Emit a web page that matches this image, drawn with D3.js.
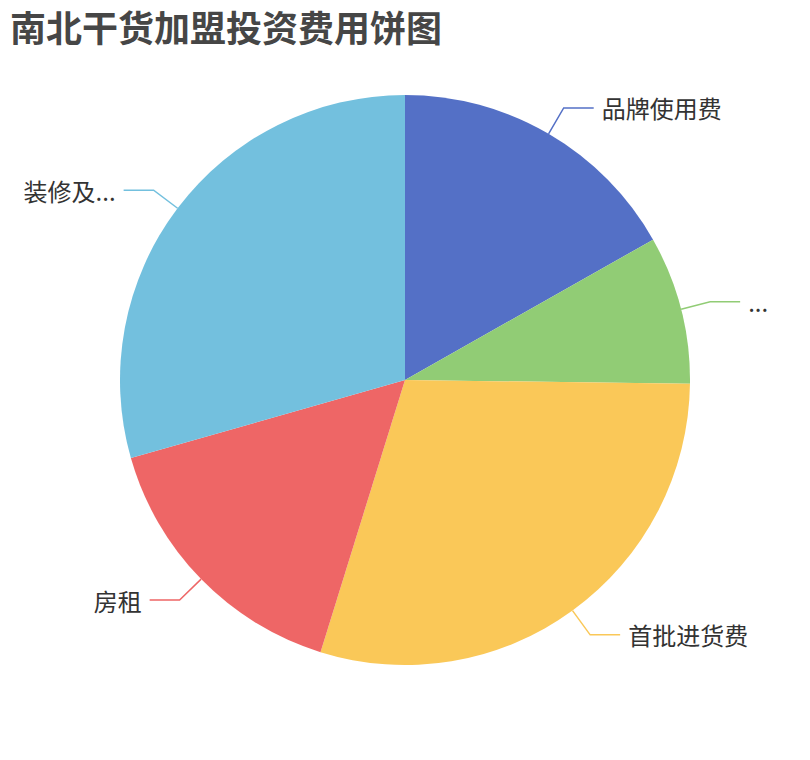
<!DOCTYPE html>
<html>
<head>
<meta charset="utf-8">
<script src="https://cdn.jsdelivr.net/npm/d3@7"></script>
<style>
  body { margin: 0; background: #fff; }
  text { font-family: "Noto Sans CJK SC", "Noto Sans", sans-serif; }
</style>
</head>
<body>
<div id="chart"></div>
<script>
// data (万元)
const names = ["品牌使用费", "保证金", "首批进货费", "房租", "装修及设备费"];
const values = [2, 1, 3.52, 1.88, 3.5];
const colors = ["#5470c6", "#91cc75", "#fac858", "#ee6666", "#73c0de"];

const width = 810, height = 760;
const cx = 405, cy = 380, radius = 285;
const len1 = 30, len2 = 30;
const fontSize = 24;

const svg = d3.select("#chart").append("svg")
    .attr("width", width)
    .attr("height", height);

svg.append("text")
    .attr("x", 10)
    .attr("y", 26)
    .attr("dominant-baseline", "central")
    .attr("font-size", 36)
    .attr("font-weight", "bold")
    .attr("fill", "#464646")
    .text("南北干货加盟投资费用饼图");

const data = names.map((n, i) => ({name: n, value: values[i], color: colors[i]}));

const pie = d3.pie().sort(null).value(d => d.value);
const arc = d3.arc().innerRadius(0).outerRadius(radius);

const g = svg.append("g").attr("transform", "translate(" + cx + "," + cy + ")");
const arcs = pie(data);

g.selectAll("path.slice")
  .data(arcs)
  .enter().append("path")
    .attr("class", "slice")
    .attr("d", arc)
    .attr("fill", d => d.data.color);

// label lines + labels, names cut down to the room left at the edges
const measure = svg.append("text").attr("font-size", fontSize).attr("visibility", "hidden");
function textW(s) { measure.text(s); return measure.node().getComputedTextLength(); }
function fit(s, maxW) {
  if (textW(s) <= maxW) return s;
  for (let k = s.length - 1; k >= 0; k--) {
    const t = s.slice(0, k) + "...";
    if (textW(t) <= maxW) return t;
  }
  return "...";
}

arcs.forEach(d => {
  const a = (d.startAngle + d.endAngle) / 2;
  const sx = Math.sin(a), sy = -Math.cos(a);
  const p0 = [sx * radius, sy * radius];
  const p1 = [sx * (radius + len1), sy * (radius + len1)];
  const right = sx >= 0;
  const p2 = [p1[0] + (right ? len2 : -len2), p1[1]];
  g.append("polyline")
    .attr("points", [p0, p1, p2].map(p => p.join(",")).join(" "))
    .attr("fill", "none")
    .attr("stroke", d.data.color)
    .attr("stroke-width", 1.5);
  const tx = p2[0] + (right ? 8 : -8);
  const absX = cx + tx;
  const maxW = right ? (780 - absX) : (absX - 10);
  g.append("text")
    .attr("x", tx)
    .attr("y", p2[1])
    .attr("text-anchor", right ? "start" : "end")
    .attr("dominant-baseline", "central")
    .attr("font-size", fontSize)
    .attr("fill", "#333")
    .text(fit(d.data.name, maxW));
});
measure.remove();
</script>
</body>
</html>
